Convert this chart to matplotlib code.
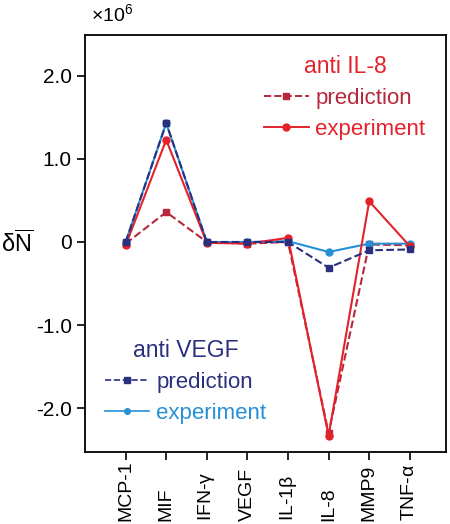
import matplotlib
matplotlib.use('Agg')

import matplotlib.pyplot as plt
from matplotlib.lines import Line2D

plt.rcParams['font.family'] = ['Liberation Sans', 'DejaVu Sans']
plt.rcParams['mathtext.fontset'] = 'custom'
plt.rcParams['mathtext.rm'] = 'Liberation Sans'
plt.rcParams['mathtext.it'] = 'Liberation Sans'

# ------------------ DATA (units of 1e6) ------------------

cytokines = ['MCP-1', 'MIF', 'IFN-$\\gamma$', 'VEGF', 'IL-1$\\beta$', 'IL-8', 'MMP9', 'TNF-$\\alpha$']

il8_prediction = [-0.02, 0.36, 0.00, -0.02, 0.00, -2.30, -0.03, -0.04]
il8_experiment = [-0.04, 1.23, -0.01, -0.02, 0.05, -2.33, 0.49, -0.05]
vegf_prediction = [0.00, 1.43, 0.00, 0.00, 0.00, -0.31, -0.10, -0.09]
vegf_experiment = [0.00, 1.43, 0.00, 0.00, 0.01, -0.12, -0.02, -0.02]

y_ticks = [-2.0, -1.0, 0.0, 1.0, 2.0]
y_tick_labels = ['-2.0', '-1.0', '0', '1.0', '2.0']

RED = '#e3222c'
DARK_RED = '#b7283c'
NAVY = '#2a2f7e'
LIGHT_BLUE = '#2690d6'

x = list(range(len(cytokines)))

fig = plt.figure(figsize=(4.5, 5.24), dpi=100)
ax = fig.add_axes([0.189, 0.137, 0.801, 0.796])

# series
ax.plot(x, vegf_experiment, '-', color=LIGHT_BLUE, lw=1.5, marker='o', ms=5, zorder=3)
ax.plot(x, vegf_prediction, '--', color=NAVY, lw=1.5, marker='s', ms=5, zorder=4)
ax.plot(x, il8_prediction, '--', color=DARK_RED, lw=1.5, marker='s', ms=5, zorder=2)
ax.plot(x, il8_experiment, '-', color=RED, lw=1.5, marker='o', ms=5, zorder=3)

ax.set_xlim(-1.0, 7.88)
ax.set_ylim(-2.53, 2.49)
ax.set_xticks(x)
ax.set_xticklabels([])
# category names bottom-aligned under the ticks
for xi, name in zip(x, cytokines):
    ax.text(xi, -0.165, name, transform=ax.get_xaxis_transform(), rotation=90,
            ha='center', va='bottom', fontsize=14)
ax.set_yticks(y_ticks)
ax.set_yticklabels(y_tick_labels, fontsize=15)
ax.tick_params(direction='out', length=6, width=1.2, top=False, right=False)
for s in ax.spines.values():
    s.set_linewidth(1.3)

ax.set_ylabel(r'$\delta\overline{N}$', rotation=0, fontsize=17, va='center')
ax.yaxis.set_label_coords(-0.188, 0.5)
fig.text(0.203, 0.953, r'$\times10^6$', fontsize=14, ha='left', va='bottom')

# ------------------ LEGENDS ------------------

il8_handles = [
    Line2D([], [], ls='--', color=DARK_RED, lw=1.4, marker='s', ms=5),
    Line2D([], [], ls='-', color=RED, lw=1.4, marker='o', ms=5),
]
leg1 = ax.legend(il8_handles, ['prediction', 'experiment'], title='anti IL-8',
                 loc='upper right', bbox_to_anchor=(1.0, 1.0), frameon=False,
                 fontsize=16, title_fontsize=16.5, handlelength=2.0, handletextpad=0.3,
                 labelspacing=0.45, labelcolor=[DARK_RED, RED])
leg1.get_title().set_color(RED)
ax.add_artist(leg1)

vegf_handles = [
    Line2D([], [], ls='--', color=NAVY, lw=1.2, marker='s', ms=4),
    Line2D([], [], ls='-', color=LIGHT_BLUE, lw=1.2, marker='o', ms=4),
]
leg2 = ax.legend(vegf_handles, ['prediction', 'experiment'], title='anti VEGF',
                 loc='lower left', bbox_to_anchor=(0.0, 0.02), frameon=False,
                 fontsize=16, title_fontsize=16.5, handlelength=2.0, handletextpad=0.3,
                 labelspacing=0.45, labelcolor=[NAVY, LIGHT_BLUE])
leg2.get_title().set_color(NAVY)

plt.savefig('out.png', dpi=100)
plt.close()
